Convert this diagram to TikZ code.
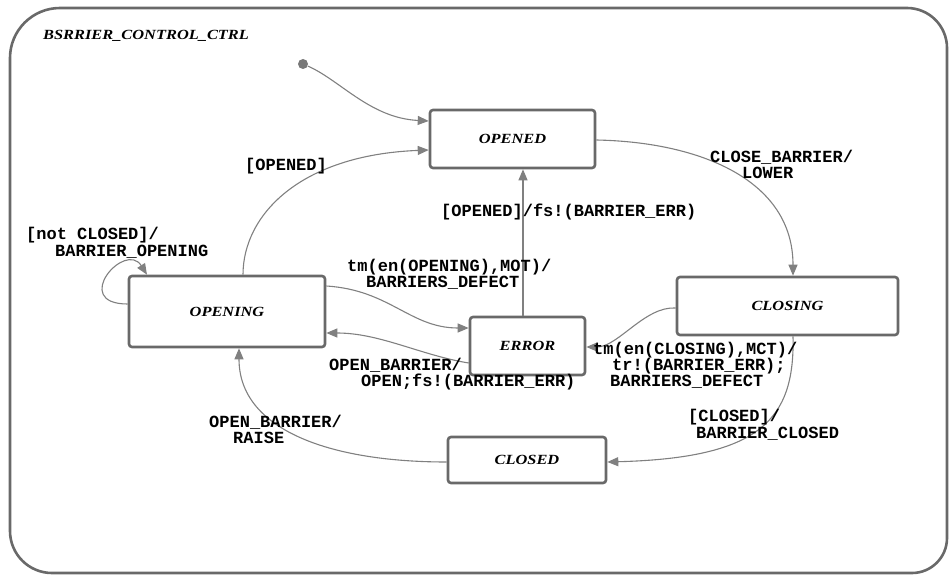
\documentclass[tikz,border=0pt]{standalone}
\usepackage{fontspec}
\usetikzlibrary{arrows.meta,calc}
\newfontfamily\lblfont{Liberation Mono}
\newfontfamily\stfont[FakeStretch=1.17]{Liberation Serif}
\definecolor{boxgray}{RGB}{105,105,105}
\definecolor{linegray}{RGB}{128,128,128}
\definecolor{dotgray}{RGB}{120,120,120}
\tikzset{
  state/.style={draw=boxgray, line width=2.6pt, rounded corners=3pt, fill=white, inner sep=0pt,
    font={\fontsize{14}{16}\selectfont\stfont\bfseries\itshape}},
  lbl/.style={anchor=west, inner sep=0pt, text=black,
    font={\fontsize{17}{18}\selectfont\lblfont\bfseries}},
  conn/.style={draw=linegray, line width=1.1pt, -{Triangle[length=11pt,width=9pt,fill=linegray]}},
  frame/.style={draw=boxgray, line width=2.6pt}
}
\begin{document}
\begin{tikzpicture}[x=1pt,y=-1pt]
\useasboundingbox (0,0) rectangle (950,575);
% outer frame
\draw[frame] (10,300) {[rounded corners=50pt] |- (500,8)} {[rounded corners=40pt] -| (947,300)}
  {[rounded corners=35pt] |- (500,573)} {[rounded corners=42pt] -| (10,300)} -- cycle;
\node[anchor=west, inner sep=0pt, font={\fontsize{14}{16}\selectfont\stfont\bfseries\itshape}] (title) at (43,36) {BSRRIER\_CONTROL\_CTRL};
% states
\node[circle, fill=dotgray, inner sep=0pt, minimum size=10pt] (init) at (303,64) {};
\node[state, minimum width=165pt, minimum height=58pt] (opened) at (512.5,139) {OPENED};
\node[state, minimum width=221pt, minimum height=58pt] (closing) at (787.5,306) {CLOSING};
\node[state, minimum width=115pt, minimum height=58pt] (error) at (527.5,346) {ERROR};
\node[state, minimum width=196pt, minimum height=71pt] (opening) at (227,311.5) {OPENING};
\node[state, minimum width=158pt, minimum height=46pt] (closed) at (527,460) {CLOSED};
% connectors
\draw[conn] (init) .. controls (340,80) and (370,118) .. ($(opened.west)+(0,-18)$);
\draw[conn] ($(opening.north)+(16,0)$) .. controls (243,215) and (300,155) .. ($(opened.west)+(0,11)$);
\draw[conn] ($(opened.east)+(0,1)$) .. controls (700,142) and (793,180) .. ($(closing.north)+(5.5,0)$);
\draw[conn] ($(error.north)+(-4.5,0)$) coordinate (ev) -- (ev |- opened.south);
\draw[conn] ($(opening.east)+(0,-25.5)$) .. controls (390,290) and (410,328) .. ($(error.west)+(0,-18)$);
\draw[conn] ($(error.west)+(0,17)$) .. controls (420,355) and (380,333) .. ($(opening.east)+(0,21.5)$);
\draw[conn] ($(closing.west)+(0,2)$) .. controls (645,306) and (618,347) .. ($(error.east)+(0,1)$);
\draw[conn] ($(closing.south)+(5.5,0)$) .. controls (795,420) and (760,458) .. ($(closed.east)+(0,2)$);
\draw[conn] ($(closed.west)+(0,2)$) .. controls (330,462) and (239,430) .. ($(opening.south)+(12,0)$);
\draw[conn] ($(opening.west)+(0,-7.5)$) .. controls (70,304) and (125,240) .. ($(opening.north)+(-80,0)$);
% labels
\node[lbl] (t1) at (245,166) {[OPENED]};
\node[lbl] (t2a) at (710,157) {CLOSE\_BARRIER/};
\node[lbl] (t2b) at (742,173) {LOWER};
\node[lbl] (t3) at (441,212) {[OPENED]/fs!(BARRIER\_ERR)};
\node[lbl] (t4a) at (347,267) {tm(en(OPENING),MOT)/};
\node[lbl] (t4b) at (366,283) {BARRIERS\_DEFECT};
\node[lbl] (t5a) at (329,365) {OPEN\_BARRIER/};
\node[lbl] (t5b) at (361,382) {OPEN;fs!(BARRIER\_ERR)};
\node[lbl] (t6a) at (26,235) {[not CLOSED]/};
\node[lbl] (t6b) at (55,252) {BARRIER\_OPENING};
\node[lbl] (t7a) at (209,422) {OPEN\_BARRIER/};
\node[lbl] (t7b) at (233,438) {RAISE};
\node[lbl] (t8a) at (593,350) {tm(en(CLOSING),MCT)/};
\node[lbl] (t8b) at (612,366) {tr!(BARRIER\_ERR);};
\node[lbl] (t8c) at (610,382) {BARRIERS\_DEFECT};
\node[lbl] (t9a) at (688,417) {[CLOSED]/};
\node[lbl] (t9b) at (696,434) {BARRIER\_CLOSED};
\end{tikzpicture}
\end{document}
